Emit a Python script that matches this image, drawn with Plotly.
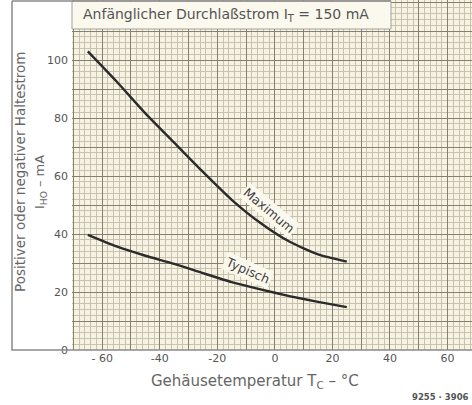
import plotly.graph_objects as go

# Data
temp_c = [-65, -55, -45, -35, -25, -15, -5, 5, 15, 25]
i_ho_max = [103, 92.6, 81.6, 71.5, 61.4, 51.8, 43.8, 37.4, 33.0, 30.5]
i_ho_typ = [39.7, 35.7, 32.5, 29.7, 26.5, 23.4, 20.9, 18.6, 16.6, 14.8]

x_grid = [-70, -60, -50, -40, -30, -20, -10, 0, 10, 20, 30, 40, 50, 60]
y_grid = [0, 10, 20, 30, 40, 50, 60, 70, 80, 90, 100, 110, 120]
x_tickvals = [-60, -40, -20, 0, 20, 40, 60]
x_ticktext = ["- 60", "-40", "-20", "0", "20", "40", "60"]
y_tickvals = [0, 20, 40, 60, 80, 100]
y_ticktext = ["0", "20", "40", "60", "80", "100"]

title_text = "Anfänglicher Durchlaßstrom I<sub>T</sub> = 150 mA"
ytitle1 = "Positiver oder negativer Haltestrom"
ytitle2 = "I<sub>HO</sub> – mA"
xtitle = "Gehäusetemperatur T<sub>C</sub> – °C"
code_text = "<b>9255 · 3906</b>"

FONT = "DejaVu Sans, Liberation Sans, sans-serif"
W, H = 472, 405
L, B = 72, 55
PW, PH = W - L, H - B
XR = [-70.5, 68.5]
YR = [0, 120.7]

def px(xp):
    return (xp - L) / PW

def py(yp):
    return 1 - yp / PH

fig = go.Figure()
for name, ys in [("Maximum", i_ho_max), ("Typisch", i_ho_typ)]:
    fig.add_trace(go.Scatter(x=temp_c, y=ys, mode="lines", name=name,
                             line=dict(color="#2b2b2b", width=2.4, shape="spline", smoothing=0.6),
                             showlegend=False))
# helper trace so the label axes are drawn
fig.add_trace(go.Scatter(x=[None], y=[None], xaxis="x2", yaxis="y2", showlegend=False,
                         hoverinfo="skip"))

grid_major = "#857f6d"
grid_minor = "#c9c3ae"
tickfont = dict(size=11, color="#555555", family=FONT)
fig.update_layout(
    width=W, height=H,
    margin=dict(l=L, r=0, t=0, b=B),
    paper_bgcolor="white",
    plot_bgcolor="#f7f3e4",
    font=dict(family=FONT, color="#555555", size=11),
    xaxis=dict(range=XR, tickvals=x_grid, showticklabels=False,
               showgrid=True, gridcolor=grid_major, gridwidth=1.2,
               minor=dict(dtick=2, tick0=0, showgrid=True, gridcolor=grid_minor, gridwidth=1),
               zeroline=False, ticks="", showline=False, fixedrange=True),
    yaxis=dict(range=YR, tickvals=y_grid, showticklabels=False,
               showgrid=True, gridcolor=grid_major, gridwidth=1.2,
               minor=dict(dtick=2, tick0=0, showgrid=True, gridcolor=grid_minor, gridwidth=1),
               zeroline=False, ticks="", showline=False, fixedrange=True),
    xaxis2=dict(range=XR, overlaying="x", anchor="y2", side="bottom",
                tickvals=x_tickvals, ticktext=x_ticktext, showgrid=False, zeroline=False,
                ticks="", tickfont=tickfont, showline=False, fixedrange=True),
    yaxis2=dict(range=YR, overlaying="y", anchor="x2", side="left",
                tickvals=y_tickvals, ticktext=y_ticktext, showgrid=False, zeroline=False,
                ticks="", tickfont=tickfont, ticklabelstandoff=3, showline=False,
                fixedrange=True),
)

shapes = [
    # title box
    dict(type="rect", xref="paper", yref="paper", x0=0, x1=px(391), y0=py(29), y1=py(1),
         fillcolor="#fbf8ee", line=dict(color="#a0a0a0", width=1), layer="above"),
    # outer frame
    dict(type="path", xref="paper", yref="paper",
         path=f"M {px(12)} {py(1)} L {px(12)} {py(350)} L 1.01 {py(350)} M {px(12)} {py(1)} L {px(391)} {py(1)}",
         line=dict(color="#8a8a8a", width=1.5), layer="above"),
]
fig.update_layout(shapes=shapes)

ann = [
    dict(text=title_text, xref="paper", yref="paper", x=px(81), y=py(15), xanchor="left",
         yanchor="middle", showarrow=False, font=dict(size=14, color="#555555")),
    dict(text=ytitle1, xref="paper", yref="paper", x=px(20), y=py(172), textangle=-90,
         xanchor="center", yanchor="middle", showarrow=False, font=dict(size=13.5, color="#666666")),
    dict(text=ytitle2, xref="paper", yref="paper", x=px(40), y=py(182), textangle=-90,
         xanchor="center", yanchor="middle", showarrow=False, font=dict(size=13, color="#666666")),
    dict(text=xtitle, xref="paper", yref="paper", x=px(255), y=py(381), xanchor="center",
         yanchor="middle", showarrow=False, font=dict(size=15, color="#666666")),
    dict(text=code_text, xref="paper", yref="paper", x=px(471), y=py(397), xanchor="right",
         yanchor="middle", showarrow=False, font=dict(size=8.5, color="#555555")),
    dict(text="Maximum", x=-2.0, y=48.0, xref="x", yref="y", textangle=40, showarrow=False,
         bgcolor="#fbf8ee", borderpad=1, font=dict(size=12.5, color="#444444")),
    dict(text="Typisch", x=-9.4, y=27.3, xref="x", yref="y", textangle=24, showarrow=False,
         bgcolor="#fbf8ee", borderpad=1, font=dict(size=12.5, color="#444444")),
]
fig.update_layout(annotations=ann)

fig.write_html("out.html")
